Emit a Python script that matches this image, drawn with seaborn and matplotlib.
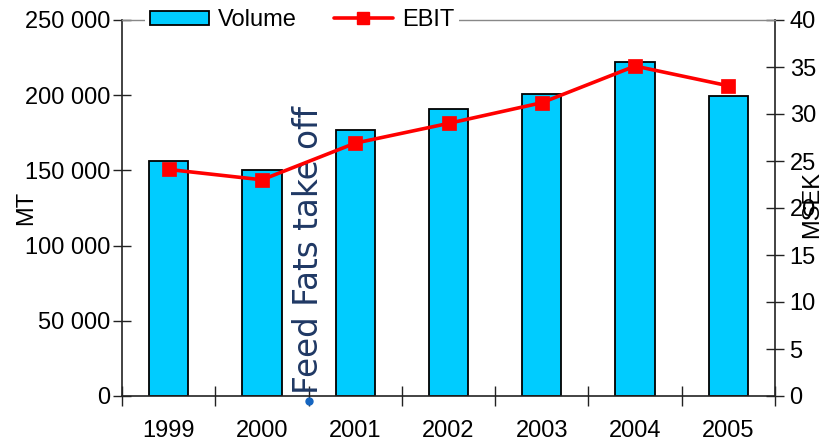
import matplotlib
matplotlib.use("Agg")
import matplotlib.pyplot as plt
import seaborn as sns
import numpy as np
from matplotlib.ticker import FuncFormatter, FixedLocator
from matplotlib.patches import Patch
from matplotlib.lines import Line2D

years = ["1999", "2000", "2001", "2002", "2003", "2004", "2005"]
volume = [156000, 150000, 177000, 191000, 201000, 222000, 199500]
ebit = [24.1, 23.0, 26.9, 29.0, 31.2, 35.1, 33.0]
left_ticks = [0, 50000, 100000, 150000, 200000, 250000]
right_ticks = [0, 5, 10, 15, 20, 25, 30, 35, 40]
annotation = "Feed Fats take off"

sns.set_theme(style="white")
plt.rcParams["font.family"] = ["Liberation Sans", "DejaVu Sans"]
plt.rcParams["text.color"] = "black"
plt.rcParams["xtick.color"] = "black"
plt.rcParams["ytick.color"] = "black"
plt.rcParams["axes.labelcolor"] = "black"

FS = 17

fig = plt.figure(figsize=(8.3, 4.41), dpi=100)
ax = fig.add_axes([122/830, 45/441, 653/830, 376/441])

sns.barplot(x=years, y=volume, ax=ax, color="#00CCFF", edgecolor="black",
            linewidth=1.3, width=0.42, saturation=1)
ax.set_xlim(-0.5, 6.5)
ax.set_ylim(0, 250000)
ax.set_yticks(left_ticks)
ax.yaxis.set_major_formatter(FuncFormatter(lambda v, p: f"{int(v):,}".replace(",", " ")))
ax.tick_params(axis="y", direction="inout", length=13, width=1, color="#222", labelsize=FS, pad=2, left=True)
ax.tick_params(axis="x", which="major", length=0, labelsize=FS, pad=17)
ax.xaxis.set_minor_locator(FixedLocator(np.arange(-0.5, 7, 1.0)))
ax.tick_params(axis="x", which="minor", direction="inout", length=14, width=1, color="#222", bottom=True)
ax.set_ylabel("MT", fontsize=FS)
ax.yaxis.set_label_coords(-0.13, 0.5)
ax.set_xlabel("")
for s in ["left", "bottom"]:
    ax.spines[s].set_color("#222")
    ax.spines[s].set_linewidth(1.2)
ax.spines["top"].set_visible(False)
ax.spines["right"].set_visible(False)

ax.text(1.5, 1500, annotation, rotation=90, ha="center", va="bottom",
        fontsize=23.5, color="#1F3864", family=["DejaVu Sans"])
ax.plot([1.5], [-3000], "o", color="#1565C0", markersize=5, clip_on=False)

ax2 = ax.twinx()
sns.pointplot(x=years, y=ebit, ax=ax2, color="#FF0000", markers="s",
              linewidth=2.6, markersize=8.5)
ax2.set_xlim(-0.5, 6.5)
ax2.set_ylim(0, 40)
ax2.set_yticks(right_ticks)
ax2.tick_params(axis="y", direction="inout", length=13, width=1, color="#222", labelsize=FS, pad=4, right=True)
ax2.set_ylabel("MSEK", fontsize=FS)
ax2.yaxis.set_label_coords(1.04, 0.51)
ax2.spines["right"].set_color("#222")
ax2.spines["right"].set_linewidth(1.2)
ax2.spines["top"].set_color("#888888")
ax2.spines["top"].set_linewidth(1.0)
ax2.spines["left"].set_visible(False)
ax2.spines["bottom"].set_visible(False)

handles = [Patch(facecolor="#00CCFF", edgecolor="black", linewidth=1.3),
           Line2D([0], [0], color="#FF0000", lw=2.6, marker="s", markersize=8.5)]
leg = ax2.legend(handles, ["Volume", "EBIT"], ncol=2, loc="center left",
                 bbox_to_anchor=(0.017, 1.0), frameon=True, fontsize=FS,
                 handlelength=2.5, handleheight=0.55, columnspacing=1.55,
                 borderpad=0.2, handletextpad=0.4, fancybox=False)
leg.get_frame().set_facecolor("white")
leg.get_frame().set_edgecolor("none")
leg.get_frame().set_alpha(1)

fig.savefig("out.png", dpi=100)
